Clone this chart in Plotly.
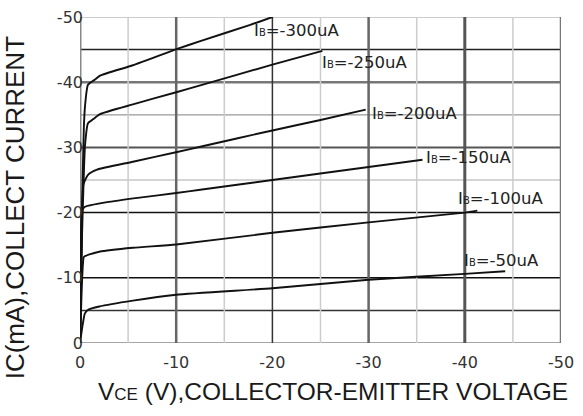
import plotly.graph_objects as go

# ---- data (VCE in V, IC in mA) ----
ib_labels = ["-300uA", "-250uA", "-200uA", "-150uA", "-100uA", "-50uA"]

v_300 = [0, -0.2, -0.4, -0.52, -0.83, -1.56, -2.08, -5.5, -10.1, -12.5, -17.7, -20.0]
i_300 = [0, -20, -33, -36.3, -39.6, -40.4, -41.0, -42.6, -45.1, -46.3, -48.8, -50.0]

v_250 = [0, -0.2, -0.4, -0.52, -0.83, -1.35, -2.08, -5.5, -10.1, -12.5, -20.0, -25.2]
i_250 = [0, -16, -26, -30.3, -33.7, -34.3, -35.1, -36.6, -38.5, -39.5, -42.7, -44.8]

v_200 = [0, -0.15, -0.35, -0.83, -1.77, -5.5, -10.1, -12.5, -20.0, -25.0, -29.7]
i_200 = [0, -14, -24.3, -25.8, -26.6, -27.8, -29.3, -30.1, -32.6, -34.2, -35.8]

v_150 = [0, -0.1, -0.2, -0.52, -2.8, -6.2, -10.0, -12.5, -20.0, -30.0, -35.6]
i_150 = [0, -12, -20.3, -20.9, -21.6, -22.3, -23.0, -23.5, -25.0, -27.0, -28.1]

v_100 = [0, -0.15, -0.3, -0.4, -1.0, -2.0, -5.5, -10.0, -20.0, -30.0, -40.0, -41.3]
i_100 = [0, -7, -12.0, -13.2, -13.6, -14.0, -14.6, -15.1, -16.9, -18.5, -20.0, -20.3]

v_50 = [0, -0.3, -0.5, -0.85, -2.0, -5.5, -10.0, -20.0, -30.0, -40.0, -44.2]
i_50 = [0, -3.0, -4.5, -5.1, -5.6, -6.5, -7.4, -8.4, -9.7, -10.6, -11.0]

# label anchor positions (V, mA)
label_v = [-17.9, -24.9, -30.1, -35.8, -39.1, -39.7]
label_i = [-48.0, -43.0, -35.2, -28.4, -22.1, -12.7]

x_ticks = [0, -10, -20, -30, -40, -50]
x_ticktext = ["0", "-10", "-20", "-30", "-40", "-50"]
y_ticks = [0, -10, -20, -30, -40, -50]
y_ticktext = ["0", "-10", "-20", "-30", "-40", "-50"]

curves = [(v_300, i_300), (v_250, i_250), (v_200, i_200),
          (v_150, i_150), (v_100, i_100), (v_50, i_50)]

fig = go.Figure()
for (vx, iy) in curves:
    fig.add_trace(go.Scatter(x=vx, y=iy, mode="lines",
                             line=dict(color="#111111", width=1.9, shape="spline", smoothing=0.5),
                             showlegend=False, hoverinfo="skip"))

# grid lines (value, color, width)
h_grid = [(-50, "#bbbbbb", 1.5), (-45, "#222222", 1.5), (-40, "#777777", 2.5),
          (-35, "#999999", 1.2), (-30, "#555555", 2), (-25, "#aaaaaa", 1),
          (-20, "#111111", 1.5), (-10, "#111111", 1.5), (-5, "#333333", 1.5),
          (0, "#888888", 1.5)]
v_grid = [(-5, "#cccccc", 1.5), (-10, "#666666", 2.5), (-15, "#cccccc", 1.5),
          (-20, "#333333", 1.5), (-25, "#cccccc", 1.5), (-30, "#666666", 2.5),
          (-35, "#cccccc", 1.5), (-40, "#555555", 3), (-45, "#cccccc", 1.5),
          (-50, "#777777", 2.5), (0, "#888888", 3)]
shapes = []
for val, col, w in h_grid:
    shapes.append(dict(type="line", xref="paper", yref="y", x0=0, x1=1, y0=val, y1=val,
                       line=dict(color=col, width=w), layer="below"))
for val, col, w in v_grid:
    shapes.append(dict(type="line", xref="x", yref="paper", x0=val, x1=val, y0=0, y1=1,
                       line=dict(color=col, width=w), layer="below"))

annotations = []
for lab, lv, li in zip(ib_labels, label_v, label_i):
    annotations.append(dict(
        x=lv, y=li, xref="x", yref="y", xanchor="left", yanchor="middle",
        text="I<span style='font-size:10px'>B</span>=" + lab, showarrow=False,
        font=dict(family="DejaVu Sans", size=16.5, color="#222222")))

annotations.append(dict(
    x=0.527, y=-0.149, xref="paper", yref="paper", xanchor="center", yanchor="middle",
    text="V<span style='font-size:17px'>CE</span> (V),COLLECTOR-EMITTER VOLTAGE",
    showarrow=False, font=dict(family="Liberation Sans, Arial", size=24.5, color="#1a1a1a")))
annotations.append(dict(
    x=-0.136, y=0.415, xref="paper", yref="paper", xanchor="center", yanchor="middle",
    text="IC(mA),COLLECT CURRENT", textangle=-90,
    showarrow=False, font=dict(family="Liberation Sans, Arial", size=26, color="#1a1a1a")))

fig.update_layout(
    width=583, height=416,
    margin=dict(l=80, r=22, t=8, b=73),
    paper_bgcolor="white", plot_bgcolor="white",
    shapes=shapes, annotations=annotations,
    xaxis=dict(range=[0, -50], tickvals=x_ticks, ticktext=x_ticktext,
               showgrid=False, zeroline=False, showline=False,
               ticks="outside", ticklen=5, tickcolor="rgba(0,0,0,0)",
               ticklabeloverflow="allow",
               tickfont=dict(family="DejaVu Sans", size=16, color="#333333")),
    yaxis=dict(range=[0, -50], tickvals=y_ticks, ticktext=y_ticktext,
               showgrid=False, zeroline=False, showline=False,
               ticks="", ticklabeloverflow="allow", ticklabelstandoff=-4,
               tickfont=dict(family="DejaVu Sans", size=16, color="#333333")),
)

fig.write_html("out.html", post_script="document.body.style.margin='0';",
               config={"displayModeBar": False})
